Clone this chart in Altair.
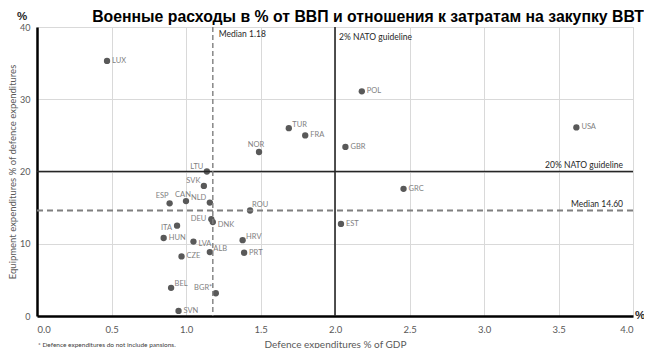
import altair as alt
import pandas as pd

# ---- data ----
countries = ["LUX", "POL", "USA", "TUR", "FRA", "GBR", "NOR", "LTU", "SVK", "GRC",
             "ESP", "CAN", "NLD", "ROU", "DEU", "DNK", "EST", "ITA", "HUN", "LVA",
             "HRV", "ALB", "PRT", "CZE", "BEL", "BGR*", "SVN"]
gdp_share = [0.47, 2.18, 3.62, 1.69, 1.80, 2.07, 1.49, 1.14, 1.12, 2.46,
             0.89, 1.00, 1.16, 1.43, 1.17, 1.18, 2.04, 0.94, 0.85, 1.05,
             1.38, 1.16, 1.39, 0.97, 0.90, 1.20, 0.95]
equip_share = [35.3, 31.1, 26.1, 26.0, 25.0, 23.4, 22.7, 20.0, 18.0, 17.6,
               15.6, 15.9, 15.7, 14.6, 13.4, 13.0, 12.75, 12.5, 10.8, 10.3,
               10.5, 8.85, 8.75, 8.25, 3.9, 3.15, 0.7]

median_gdp = 1.18
median_equip = 14.60
nato_gdp = 2.0
nato_equip = 20.0

x_ticks = [0.0, 0.5, 1.0, 1.5, 2.0, 2.5, 3.0, 3.5, 4.0]
y_ticks = [0, 5, 10, 15, 20, 25, 30, 35, 40]

title_text = "Военные расходы в % от ВВП и отношения к затратам на закупку ВВТ"
x_title = "Defence expenditures % of GDP"
y_title = "Equipment expenditures % of defence expenditures"
footnote = "* Defence expenditures do not include pansions."

# label placement groups (style only)
label_groups = {
    "r": ["LUX", "POL", "USA", "FRA", "GBR", "GRC", "EST", "PRT", "CZE", "SVN", "HUN"],
    "rl": ["DNK", "LVA"],
    "rh": ["TUR", "HRV", "ALB", "BEL"],
    "rt": ["ROU"],
    "l": ["DEU"],
    "ll": ["ITA"],
    "lh": ["LTU", "SVK", "NLD", "BGR*"],
    "lt": ["ESP"],
    "t": ["NOR", "CAN"],
}
label_style = {
    "r": dict(align="left", dx=5, dy=0),
    "rl": dict(align="left", dx=5, dy=2.5),
    "rh": dict(align="left", dx=3.5, dy=-3.5),
    "rt": dict(align="left", dx=2, dy=-6),
    "l": dict(align="right", dx=-5, dy=0),
    "ll": dict(align="right", dx=-5, dy=2),
    "lh": dict(align="right", dx=-3.5, dy=-5),
    "lt": dict(align="right", dx=-1, dy=-7),
    "t": dict(align="center", dx=-3, dy=-6.5),
}

df = pd.DataFrame({"country": countries, "gdp": gdp_share, "equip": equip_share})

FONT = "Lato"
GRAY = "#595959"
W, H = 596, 289
PAD_L, PAD_T = 29, 19

xscale = alt.Scale(domain=[0, 4], nice=False, zero=False)
yscale = alt.Scale(domain=[0, 40], nice=False)

xaxis = alt.Axis(values=x_ticks, format=".1f", grid=True, gridColor="#d9d9d9", gridWidth=1,
                 domainColor="#000000", domainWidth=2.5, ticks=False, labelOverlap=False,
                 labelFont=FONT, labelFontSize=9.5, labelColor=GRAY, labelPadding=8,
                 title=x_title, titleFont=FONT, titleFontSize=10, titleColor=GRAY,
                 titleFontWeight="normal", titleY=28, titleBaseline="middle")
yaxis = alt.Axis(values=y_ticks, grid=True, gridColor="#d9d9d9", gridWidth=1,
                 domainColor="#000000", domainWidth=2.5, ticks=False, labelOverlap=False,
                 labelFont=FONT, labelFontSize=9, labelColor=GRAY, labelPadding=7,
                 title=y_title, titleFont=FONT, titleFontSize=9.5, titleColor=GRAY,
                 titleFontWeight="normal", titleX=-24.5, titleY=H / 2,
                 titleBaseline="middle", titleAlign="center", titleAngle=270)

base = alt.Chart(df)

points = base.mark_circle(size=40, color=GRAY, opacity=1).encode(
    x=alt.X("gdp:Q", scale=xscale, axis=xaxis),
    y=alt.Y("equip:Q", scale=yscale, axis=yaxis),
)

label_layers = []
for key, members in label_groups.items():
    st = label_style[key]
    label_layers.append(
        base.transform_filter(alt.FieldOneOfPredicate(field="country", oneOf=members))
        .mark_text(font=FONT, fontSize=7.5, color="#7f7f7f", baseline="middle", **st)
        .encode(x=alt.X("gdp:Q", scale=xscale), y=alt.Y("equip:Q", scale=yscale), text="country:N")
    )

vline_df = pd.DataFrame({"v": [nato_gdp]})
hline_df = pd.DataFrame({"v": [nato_equip]})
vmed_df = pd.DataFrame({"v": [median_gdp]})
hmed_df = pd.DataFrame({"v": [median_equip]})

nato_v = alt.Chart(vline_df).mark_rule(color="#262626", strokeWidth=1.6).encode(
    x=alt.X("v:Q", scale=xscale))
nato_h = alt.Chart(hline_df).mark_rule(color="#262626", strokeWidth=1.4).encode(
    y=alt.Y("v:Q", scale=yscale))
med_v = alt.Chart(vmed_df).mark_rule(color="#7f7f7f", strokeWidth=1.4, strokeDash=[5, 3]).encode(
    x=alt.X("v:Q", scale=xscale))
med_h = alt.Chart(hmed_df).mark_rule(color="#7f7f7f", strokeWidth=2, strokeDash=[6, 4]).encode(
    y=alt.Y("v:Q", scale=yscale))

ann_font = dict(font=FONT, fontSize=8.5, color="#262626", baseline="middle")
med_v_txt = alt.Chart(vmed_df).mark_text(align="left", dx=6, dy=7, **ann_font).encode(
    x=alt.X("v:Q", scale=xscale), y=alt.datum(40), text=alt.value(f"Median {median_gdp:.2f}"))
nato_v_txt = alt.Chart(vline_df).mark_text(align="left", dx=4, dy=10, **ann_font).encode(
    x=alt.X("v:Q", scale=xscale), y=alt.datum(40), text=alt.value(f"{nato_gdp:.0f}% NATO guideline"))
nato_h_txt = alt.Chart(hline_df).mark_text(align="right", dx=-10, dy=-6.5, **ann_font).encode(
    y=alt.Y("v:Q", scale=yscale), x=alt.datum(4.0), text=alt.value(f"{nato_equip:.0f}% NATO guideline"))
med_h_txt = alt.Chart(hmed_df).mark_text(align="right", dx=-10, dy=-6.5, **ann_font).encode(
    y=alt.Y("v:Q", scale=yscale), x=alt.datum(4.0), text=alt.value(f"Median {median_equip:.2f}"))

txt_df = pd.DataFrame({"t": ["%"], "title": [title_text], "foot": [footnote]})
title_mark = alt.Chart(txt_df).mark_text(font="Liberation Sans", fontSize=15.8, fontWeight="bold",
                                         color="#000000", baseline="alphabetic", align="center").encode(
    text="title:N", x=alt.value(331), y=alt.value(-5))
pct_top = alt.Chart(txt_df).mark_text(font="Liberation Sans", fontSize=11.5, fontWeight="bold",
                                      color="#262626", baseline="alphabetic", align="center").encode(
    text="t:N", x=alt.value(-15), y=alt.value(-7.5))
pct_right = alt.Chart(txt_df).mark_text(font="Liberation Sans", fontSize=11.5, fontWeight="bold",
                                        color="#262626", baseline="middle", align="left").encode(
    text="t:N", x=alt.value(W + 2), y=alt.value(H))
foot = alt.Chart(txt_df).mark_text(font=FONT, fontSize=6.5, color="#404040", baseline="middle",
                                   align="left").encode(
    text="foot:N", x=alt.value(1), y=alt.value(H + 29))

chart = alt.layer(
    points, nato_v, nato_h, med_v, med_h, *label_layers,
    med_v_txt, nato_v_txt, nato_h_txt, med_h_txt, title_mark, pct_top, pct_right, foot,
).properties(
    width=W, height=H,
    autosize=alt.AutoSizeParams(type="none"),
    padding={"left": PAD_L, "top": PAD_T, "right": 11, "bottom": 32},
).configure_view(stroke=None).configure(background="white")

chart.save("out.html", embed_options={"renderer": "svg", "actions": False})
